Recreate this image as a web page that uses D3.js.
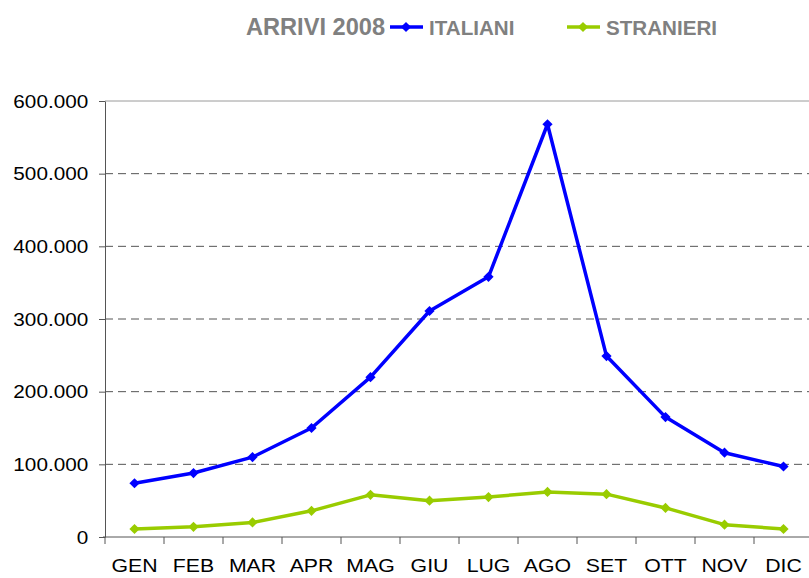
<!DOCTYPE html>
<html>
<head>
<meta charset="utf-8">
<script src="https://cdn.jsdelivr.net/npm/d3@7/dist/d3.min.js"></script>
<style>
  body { margin: 0; background: #fff; }
  svg { display: block; font-family: Arial, "Liberation Sans", sans-serif; }
</style>
</head>
<body>
<svg width="809" height="578"></svg>
<script>
// data
var months = ["GEN", "FEB", "MAR", "APR", "MAG", "GIU", "LUG", "AGO", "SET", "OTT", "NOV", "DIC"];
var italiani = [74000, 88000, 110000, 150000, 220000, 311000, 358000, 568000, 249000, 165000, 116000, 97000];
var stranieri = [11000, 14000, 20000, 36000, 58000, 50000, 55000, 62000, 59000, 40000, 17000, 11000];
var yTicks = [0, 100000, 200000, 300000, 400000, 500000, 600000];

var series = [
  { name: "ITALIANI", values: italiani, color: "#0000ff" },
  { name: "STRANIERI", values: stranieri, color: "#99cc00" }
];

var svg = d3.select("svg"),
  plotLeft = 105,
  plotTop = 101,
  plotBottom = 537,
  plotRight = 809;

var x = d3.scaleBand().domain(months).range([plotLeft, plotLeft + 59 * 12]).paddingInner(0).paddingOuter(0);
var y = d3.scaleLinear().domain([0, 600000]).range([plotBottom, plotTop]);

var it = d3.formatLocale({ decimal: ",", thousands: ".", grouping: [3], currency: ["€", ""] });
var fmt = function(d) {
  return d === 0 ? "0" : it.format(",")(d);
};

// grid lines
svg.append("g")
  .selectAll("line")
  .data(yTicks.filter(function(d) { return d > 0; }))
  .enter()
  .append("line")
  .attr("x1", plotLeft)
  .attr("x2", plotRight)
  .attr("y1", function(d) { return y(d); })
  .attr("y2", function(d) { return y(d); })
  .attr("stroke", function(d) { return d === 600000 ? "#9a9a9a" : "#555"; })
  .attr("stroke-width", 1)
  .attr("stroke-dasharray", function(d) { return d === 600000 ? null : "8,5"; });

// y axis
var yAxis = svg.append("g")
  .attr("transform", "translate(" + plotLeft + ",0)")
  .call(d3.axisLeft(y).tickValues(yTicks).tickFormat(fmt).tickSize(6).tickSizeOuter(0));
yAxis.select(".domain").attr("stroke", "#555");
yAxis.selectAll(".tick line").attr("stroke", "#555");
yAxis.selectAll(".tick text")
  .attr("font-size", 18.5)
  .attr("fill", "#000")
  .attr("x", -15)
  .attr("dy", "0.34em")
  .attr("transform", "scale(1.12,1)");

// x axis, ticks between the months
var xg = svg.append("g").attr("transform", "translate(0," + plotBottom + ")");
xg.append("line")
  .attr("x1", plotLeft - 2)
  .attr("x2", plotRight)
  .attr("stroke", "#555");
xg.selectAll(".sep")
  .data(months)
  .enter()
  .append("line")
  .attr("class", "sep")
  .attr("x1", function(d) { return x(d); })
  .attr("x2", function(d) { return x(d); })
  .attr("y1", 0)
  .attr("y2", 7)
  .attr("stroke", "#555");
xg.selectAll(".lab")
  .data(months)
  .enter()
  .append("text")
  .attr("class", "lab")
  .attr("text-anchor", "middle")
  .attr("font-size", 19)
  .attr("transform", function(d) {
    return "translate(" + (x(d) + x.bandwidth() / 2) + ",35) scale(1.12,1)";
  })
  .text(function(d) { return d; });

// lines and markers
var line = d3.line()
  .x(function(d, i) { return x(months[i]) + x.bandwidth() / 2; })
  .y(function(d) { return y(d); });

// square turned 45 degrees, as wide as it is tall
var diamond = d3.symbol().type(d3.symbolSquare).size(52);

series.forEach(function(s) {
  var g = svg.append("g");
  g.append("path")
    .datum(s.values)
    .attr("d", line)
    .attr("fill", "none")
    .attr("stroke", s.color)
    .attr("stroke-width", 3.5)
    .attr("stroke-linejoin", "round");
  g.selectAll("path.pt")
    .data(s.values)
    .enter()
    .append("path")
    .attr("class", "pt")
    .attr("d", diamond)
    .attr("fill", s.color)
    .attr("transform", function(d, i) {
      return "translate(" + (x(months[i]) + x.bandwidth() / 2) + "," + y(d) + ") rotate(45)";
    });
});

// title and legend
svg.append("text")
  .attr("x", 246)
  .attr("y", 35)
  .attr("font-size", 23.6)
  .attr("font-weight", "bold")
  .attr("fill", "#808080")
  .text("ARRIVI 2008");

var legendX = [390, 567];
series.forEach(function(s, i) {
  var lg = svg.append("g").attr("transform", "translate(" + legendX[i] + ",27)");
  lg.append("line")
    .attr("x1", 0)
    .attr("x2", 33)
    .attr("stroke", s.color)
    .attr("stroke-width", 3.5);
  lg.append("path")
    .attr("d", diamond)
    .attr("fill", s.color)
    .attr("transform", "translate(16,0) rotate(45)");
  lg.append("text")
    .attr("x", 39)
    .attr("y", 8)
    .attr("font-size", 20.6)
    .attr("font-weight", "bold")
    .attr("fill", "#808080")
    .text(s.name);
});
</script>
</body>
</html>
